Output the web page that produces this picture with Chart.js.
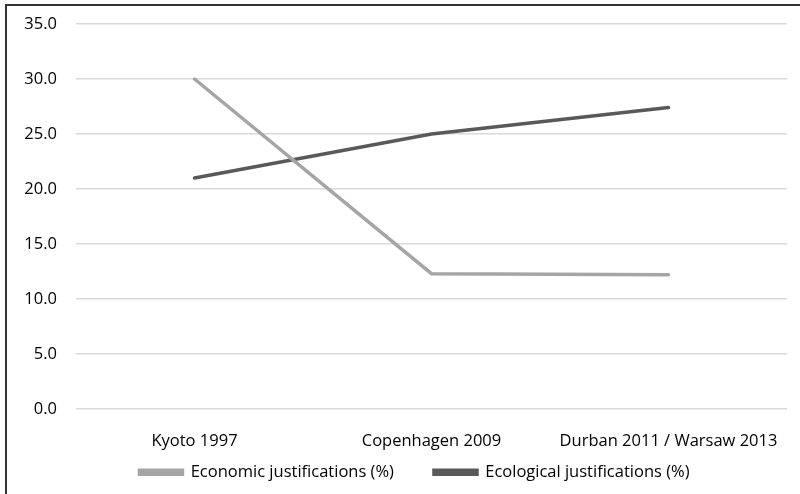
<!DOCTYPE html>
<html>
<head>
<meta charset="utf-8">
<script src="https://cdn.jsdelivr.net/npm/chart.js@4/dist/chart.umd.min.js"></script>
<style>
  body { margin: 0; background: #fff; }
  #wrap { position: relative; width: 800px; height: 494px; }
  #frame { position: absolute; left: 5px; top: 4px; width: 795px; height: 490px;
           border-top: 2px solid #333; border-left: 2px solid #333; box-sizing: border-box; }
  canvas { position: absolute; left: 0; top: 0; }
</style>
</head>
<body>
<div id="wrap">
  <div id="frame"></div>
  <canvas id="chart" width="800" height="494"></canvas>
</div>
<script>
// values
const summits = ['Kyoto 1997', 'Copenhagen 2009', 'Durban 2011 / Warsaw 2013'];
const economic = [30.0, 12.3, 12.2];
const ecological = [21.0, 25.0, 27.4];

const font = { family: '"Open Sans", sans-serif', size: 16.5 };

// legend padding sets both the gap between items and the box height;
// we want the wide gap but a short box, so trim height and shift when drawing
const legendGap = {
  id: 'legendGap',
  beforeUpdate(chart) {
    const lg = chart.legend;
    if (!lg || lg._gapPatched) return;
    const fit = lg.fit.bind(lg);
    const draw = lg.draw.bind(lg);
    lg.fit = function () { fit(); this.height = 37; };
    lg.draw = function () {
      const { top, left, right } = this;
      this.top -= 28;
      this.left += 18;
      this.right += 18;
      draw();
      Object.assign(this, { top, left, right });
    };
    lg._gapPatched = true;
  },
};

new Chart(document.getElementById('chart'), {
  type: 'line',
  data: {
    labels: summits,
    datasets: [
      {
        label: 'Economic justifications (%)',
        data: economic,
        borderColor: '#a5a5a5',
        backgroundColor: '#a5a5a5',
        borderWidth: 3.5,
        borderCapStyle: 'round',
        pointRadius: 0,
        tension: 0,
      },
      {
        label: 'Ecological justifications (%)',
        data: ecological,
        borderColor: '#595959',
        backgroundColor: '#595959',
        borderWidth: 3.5,
        borderCapStyle: 'round',
        pointRadius: 0,
        tension: 0,
      },
    ],
  },
  plugins: [legendGap],
  options: {
    responsive: false,
    animation: false,
    layout: { padding: { left: 6, right: 13, top: 24, bottom: 5 } },
    plugins: {
      tooltip: { enabled: false },
      legend: {
        position: 'bottom',
        labels: {
          color: '#000',
          font: font,
          boxWidth: 43,
          boxHeight: 4,
          padding: 40,
        },
      },
    },
    scales: {
      x: {
        offset: true,
        grid: { display: false },
        border: { display: false },
        ticks: { color: '#000', font: font, padding: 14, maxRotation: 0 },
        afterFit: (axis) => { axis.height = 43; axis.paddingLeft = 0; axis.paddingRight = 0; },
      },
      y: {
        min: 0,
        max: 35,
        ticks: {
          stepSize: 5,
          color: '#000',
          font: font,
          padding: 19,
          callback: (v) => v.toFixed(1),
        },
        grid: { color: '#d9d9d9', lineWidth: 1.5, drawTicks: false },
        border: { display: false },
        afterFit: (axis) => { axis.width = 70; axis.paddingTop = 0; axis.paddingBottom = 0; },
      },
    },
  },
});
</script>
</body>
</html>
